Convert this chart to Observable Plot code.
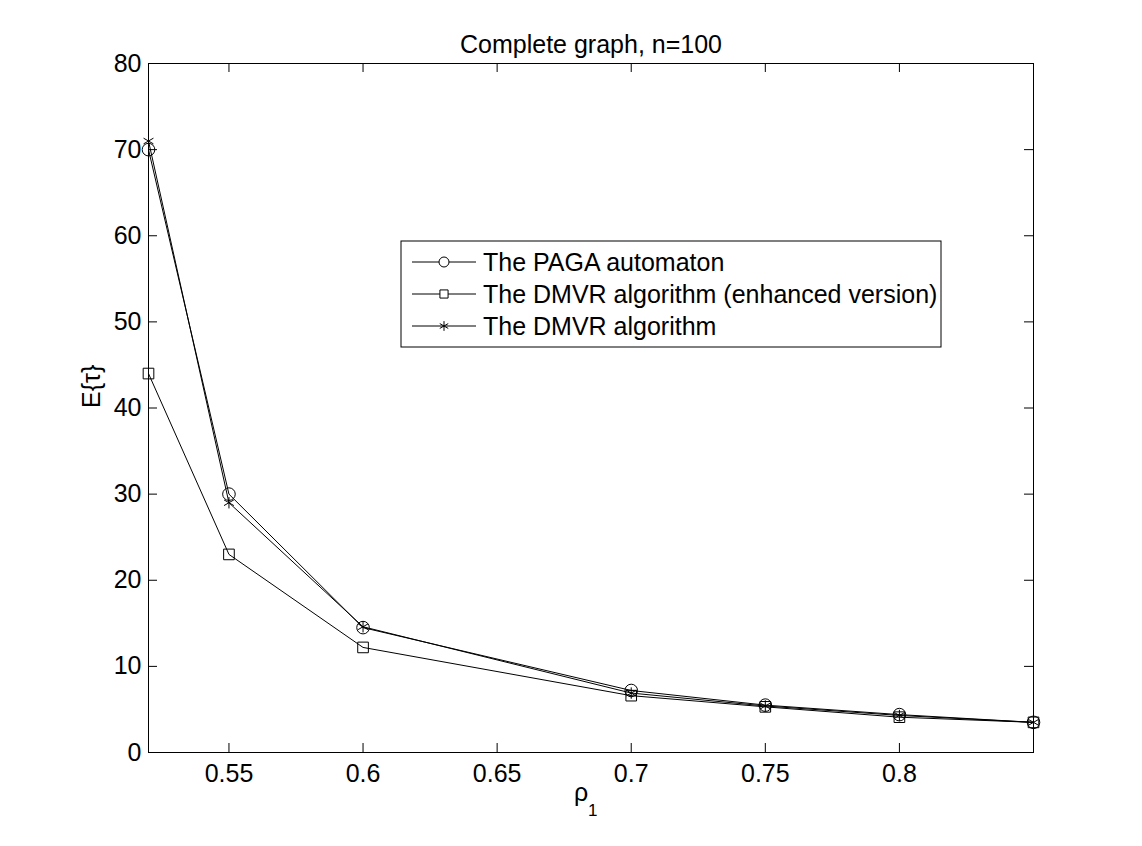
<!DOCTYPE html>
<html>
<head>
<meta charset="utf-8">
<script src="https://cdn.jsdelivr.net/npm/d3@7"></script>
<script src="https://cdn.jsdelivr.net/npm/@observablehq/plot@0.6"></script>
<style>
  html, body { margin: 0; padding: 0; background: white; }
  #chart { position: relative; width: 1142px; height: 846px; }
</style>
</head>
<body>
<div id="chart"></div>
<script>
const xValues = [0.52, 0.55, 0.6, 0.7, 0.75, 0.8, 0.85];
const pagaValues = [70, 30, 14.5, 7.2, 5.5, 4.4, 3.5];
const enhancedValues = [44, 23, 12.2, 6.6, 5.3, 4.1, 3.5];
const dmvrValues = [71, 29, 14.6, 6.9, 5.4, 4.3, 3.5];
const seriesNames = ["The PAGA automaton", "The DMVR algorithm (enhanced version)", "The DMVR algorithm"];
const seriesSymbols = ["circle", "square", "asterisk"];
const xTicks = [0.55, 0.6, 0.65, 0.7, 0.75, 0.8];
const yTicks = [0, 10, 20, 30, 40, 50, 60, 70, 80];
const titleText = "Complete graph, n=100";

const W = 1142, H = 846;
const mL = 148, mR = 109, mT = 63, mB = 94;
const plotW = W - mL - mR, plotH = H - mT - mB;
const tickLen = 9;
const fs = 25;
const font = "'Liberation Sans', Arial, Helvetica, sans-serif";

const allSeries = [pagaValues, enhancedValues, dmvrValues];
const rows = [];
allSeries.forEach((vals, i) => vals.forEach((v, j) => rows.push({series: seriesNames[i], x: xValues[j], y: v})));

const symbolR = {"circle": 6.3, "square": 6.0, "asterisk": 5.4};

const marks = [
  Plot.frame({stroke: "black", strokeWidth: 1}),
  Plot.tickX(xTicks, {x: d => d, insetTop: plotH - tickLen, stroke: "black", strokeWidth: 1}),
  Plot.tickX(xTicks, {x: d => d, insetBottom: plotH - tickLen, stroke: "black", strokeWidth: 1}),
  Plot.tickY(yTicks, {y: d => d, insetRight: plotW - tickLen, stroke: "black", strokeWidth: 1}),
  Plot.tickY(yTicks, {y: d => d, insetLeft: plotW - tickLen, stroke: "black", strokeWidth: 1}),
  Plot.axisX({ticks: xTicks, tickSize: 0, tickPadding: 12, fontSize: fs, tickFormat: d => String(d), label: null}),
  Plot.axisY({ticks: yTicks, tickSize: 0, tickPadding: 7, fontSize: fs, tickFormat: d => String(d), label: null}),
];
seriesNames.forEach((name, i) => {
  const data = rows.filter(r => r.series === name);
  marks.push(Plot.line(data, {x: "x", y: "y", stroke: "black", strokeWidth: 1}));
  marks.push(Plot.dot(data, {x: "x", y: "y", symbol: () => seriesSymbols[i], r: symbolR[seriesSymbols[i]], stroke: "black", fill: "none", strokeWidth: 1}));
});
marks.push(
  Plot.text([titleText], {frameAnchor: "top", dy: -28, fontSize: fs, fill: "black"}),
  Plot.text(["E{τ}"], {frameAnchor: "left", dx: -57, rotate: -90, fontSize: fs, fill: "black"}),
  Plot.text(["ρ"], {frameAnchor: "bottom", textAnchor: "start", dx: -17, dy: 48, fontSize: fs, fill: "black"}),
  Plot.text(["1"], {frameAnchor: "bottom", textAnchor: "start", dx: -3, dy: 63, fontSize: 17, fill: "black"})
);

const chart = Plot.plot({
  width: W, height: H,
  marginLeft: mL, marginRight: mR, marginTop: mT, marginBottom: mB,
  x: {domain: [0.52, 0.85], label: null},
  y: {domain: [0, 80], label: null},
  style: {fontFamily: font, fontSize: fs + "px", color: "black", background: "white"},
  marks
});

// Legend inside the plot area
const svg = d3.select(chart);
const lg = svg.append("g").attr("font-family", font).attr("font-size", fs).attr("text-anchor", "start");
const box = {x: 401, y: 241, w: 540, h: 106};
lg.append("rect").attr("x", box.x).attr("y", box.y).attr("width", box.w).attr("height", box.h)
  .attr("fill", "white").attr("stroke", "black").attr("stroke-width", 1);
const rowY = [262, 294, 326];
const d3Sym = {"circle": d3.symbolCircle, "square": d3.symbolSquare, "asterisk": d3.symbolAsterisk};
const legR = {"circle": 5, "square": 4.6, "asterisk": 4.6};
seriesNames.forEach((name, i) => {
  const y = rowY[i];
  lg.append("line").attr("x1", box.x + 11).attr("x2", box.x + 75).attr("y1", y).attr("y2", y)
    .attr("stroke", "black").attr("stroke-width", 1);
  const s = seriesSymbols[i];
  lg.append("path").attr("d", d3.symbol(d3Sym[s], Math.PI * legR[s] * legR[s])())
    .attr("transform", `translate(${box.x + 43},${y})`)
    .attr("fill", "white").attr("stroke", "black").attr("stroke-width", 1);
  lg.append("text").attr("x", box.x + 82).attr("y", y).attr("dy", "0.35em").attr("fill", "black").text(name);
});

document.getElementById("chart").appendChild(chart);
</script>
</body>
</html>
